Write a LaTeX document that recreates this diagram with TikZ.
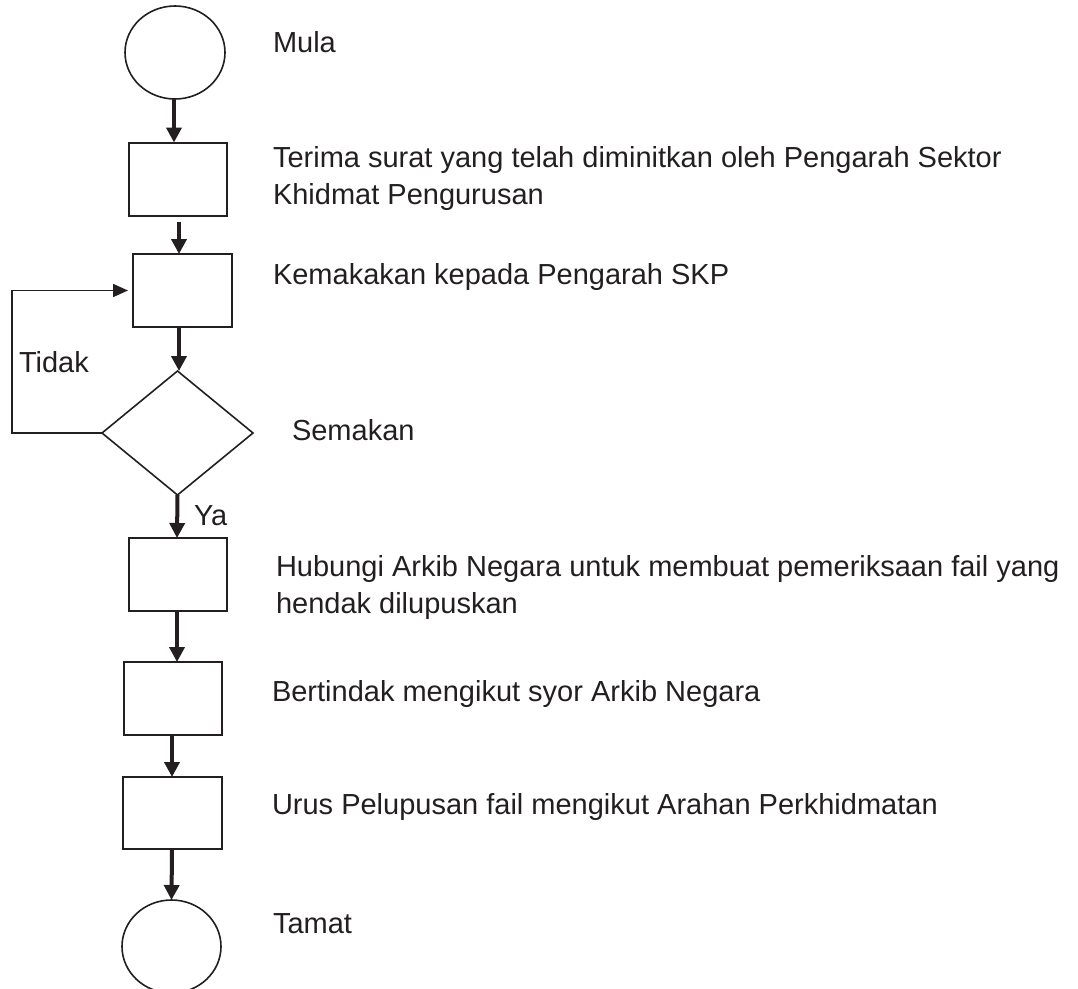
\documentclass[tikz,border=0pt]{standalone}
\usepackage{fontspec}
\setmainfont{Liberation Sans}
\usetikzlibrary{shapes.geometric,arrows.meta}
\definecolor{ink}{HTML}{231F20}
\begin{document}
\begin{tikzpicture}[x=1pt,y=-1pt,
  every node/.style={inner sep=0pt,outer sep=0pt},
  terminal/.style={draw=ink,line width=1.6pt,ellipse,minimum width=100pt,minimum height=93pt},
  stepbox/.style={draw=ink,line width=2pt,rectangle,minimum width=98pt,minimum height=73pt},
  decision/.style={draw=ink,line width=1.6pt,diamond,minimum width=151pt,minimum height=124pt,aspect=1.2},
  flow/.style={draw=ink,line width=4pt,-{Triangle[length=15pt,width=15pt]}},
  loop/.style={draw=ink,line width=1.6pt,-{Triangle[length=15pt,width=13pt]}},
  lbl/.style={anchor=base west,text=ink,font=\fontsize{29}{37}\selectfont,align=left}]
\useasboundingbox (0,0) rectangle (1078,988);
% shapes
\node[terminal] (start) at (175,52.5) {};
\node[stepbox] (b1) at (178,179) {};
\node[stepbox,minimum width=99pt] (b2) at (182.5,290.5) {};
\node[decision] (dec) at (177.5,433) {};
\node[stepbox] (b3) at (178,574.5) {};
\node[stepbox] (b4) at (173,698.5) {};
\node[stepbox,minimum width=99pt,minimum height=72pt] (b5) at (172.5,813) {};
\node[terminal,minimum width=99pt] (end) at (171.5,946.5) {};
% connectors
\draw[flow] ([xshift=-1pt]start.south) -- ([xshift=-4pt]b1.north);
\draw[flow] ([xshift=1pt,yshift=-6pt]b1.south) -- ([xshift=-3.5pt]b2.north);
\draw[flow] ([xshift=-3.5pt]b2.south) -- ([xshift=1.5pt]dec.north);
\draw[flow] (dec.south) -- ([xshift=-1pt]b3.north);
\draw[flow] ([xshift=-1pt]b3.south) -- ([xshift=4pt]b4.north);
\draw[flow] ([xshift=-1pt]b4.south) -- ([xshift=-0.5pt]b5.north);
\draw[flow] ([xshift=-0.5pt]b5.south) -- (end.north);
\coordinate (lx) at (12,0);
\draw[loop] (dec.west) -- (dec.west -| lx) |- ([xshift=-5pt]b2.west);
% labels
\node[lbl] (tmula) at (273,52) {Mula};
\node[lbl] (tterima) at (273,204) {Terima surat yang telah diminitkan oleh Pengarah Sektor\\Khidmat Pengurusan};
\node[lbl] (tkem) at (273,284) {Kemakakan kepada Pengarah SKP};
\node[lbl] (tsem) at (292,440) {Semakan};
\node[lbl] (ttidak) at (19,372) {Tidak};
\node[lbl] (tya) at (194,525) {Ya};
\node[lbl] (thub) at (276,613) {Hubungi Arkib Negara untuk membuat pemeriksaan fail yang\\hendak dilupuskan};
\node[lbl] (tber) at (272,701) {Bertindak mengikut syor Arkib Negara};
\node[lbl] (turus) at (272,814) {Urus Pelupusan fail mengikut Arahan Perkhidmatan};
\node[lbl] (ttamat) at (273,933) {Tamat};
\end{tikzpicture}
\end{document}
